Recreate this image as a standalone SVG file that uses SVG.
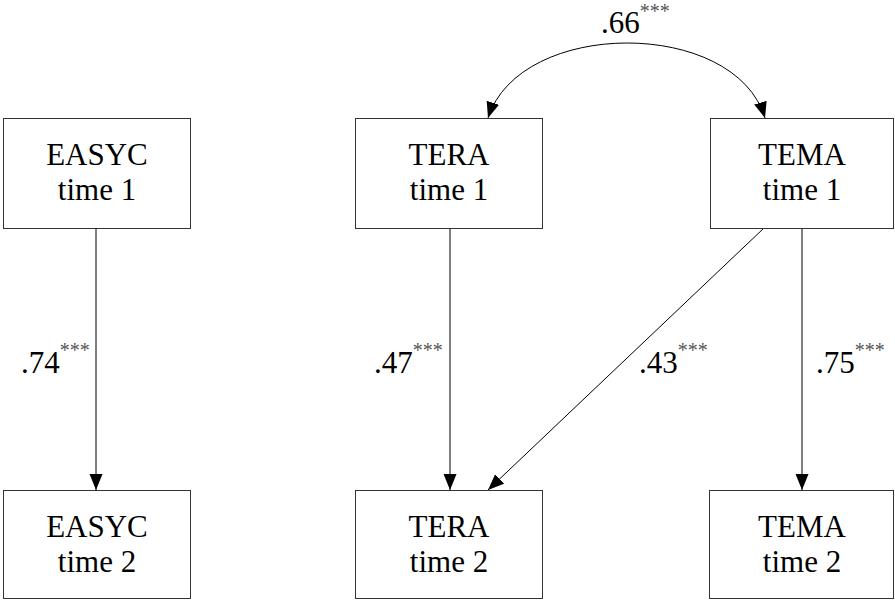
<svg xmlns="http://www.w3.org/2000/svg" width="895" height="600" viewBox="0 0 895 600">
<defs>
<marker id="ah" markerUnits="userSpaceOnUse" markerWidth="16" markerHeight="14" refX="16" refY="7" orient="auto-start-reverse">
<path d="M0,0.5 L16,7 L0,13.5 z" fill="#000"/>
</marker>
</defs>
<rect width="895" height="600" fill="#fff"/>
<g id="connectors" fill="none" stroke="#000" stroke-width="1">
<path d="M96,228 L96,490" marker-end="url(#ah)"/>
<path d="M450,228 L450,490" marker-end="url(#ah)"/>
<path d="M802,228 L802,490" marker-end="url(#ah)"/>
<path d="M764,228 L488,490" marker-end="url(#ah)"/>
<path d="M488,118 C520,18 735,18 765,118" marker-start="url(#ah)" marker-end="url(#ah)"/>
</g>
<g id="labels">
<text font-family="Liberation Serif" font-size="31" fill="#000" x="601" y="33">.66<tspan font-size="20" fill="#555" dy="-15">***</tspan></text>
<text font-family="Liberation Serif" font-size="31" fill="#000" x="21" y="373">.74<tspan font-size="20" fill="#555" dy="-16">***</tspan></text>
<text font-family="Liberation Serif" font-size="31" fill="#000" x="374" y="373">.47<tspan font-size="20" fill="#555" dy="-16">***</tspan></text>
<text font-family="Liberation Serif" font-size="31" fill="#000" x="639" y="373">.43<tspan font-size="20" fill="#555" dy="-16">***</tspan></text>
<text font-family="Liberation Serif" font-size="31" fill="#000" x="816" y="373">.75<tspan font-size="20" fill="#555" dy="-16">***</tspan></text>
</g>
<g id="easyc1"><rect fill="#fff" stroke="#333" x="3.5" y="118.5" width="187" height="110"/><text font-family="Liberation Serif" font-size="31" text-anchor="middle" x="97" y="165">EASYC</text><text font-family="Liberation Serif" font-size="31" text-anchor="middle" x="97" y="200">time 1</text></g>
<g id="tera1"><rect fill="#fff" stroke="#333" x="355.5" y="118.5" width="187" height="110"/><text font-family="Liberation Serif" font-size="31" text-anchor="middle" x="449" y="165">TERA</text><text font-family="Liberation Serif" font-size="31" text-anchor="middle" x="449" y="200">time 1</text></g>
<g id="tema1"><rect fill="#fff" stroke="#333" x="710.5" y="118.5" width="183" height="110"/><text font-family="Liberation Serif" font-size="31" text-anchor="middle" x="802" y="165">TEMA</text><text font-family="Liberation Serif" font-size="31" text-anchor="middle" x="802" y="200">time 1</text></g>
<g id="easyc2"><rect fill="#fff" stroke="#333" x="3.5" y="490.5" width="187" height="108"/><text font-family="Liberation Serif" font-size="31" text-anchor="middle" x="97" y="537">EASYC</text><text font-family="Liberation Serif" font-size="31" text-anchor="middle" x="97" y="572">time 2</text></g>
<g id="tera2"><rect fill="#fff" stroke="#333" x="355.5" y="490.5" width="187" height="108"/><text font-family="Liberation Serif" font-size="31" text-anchor="middle" x="449" y="537">TERA</text><text font-family="Liberation Serif" font-size="31" text-anchor="middle" x="449" y="572">time 2</text></g>
<g id="tema2"><rect fill="#fff" stroke="#333" x="709.5" y="490.5" width="184" height="108"/><text font-family="Liberation Serif" font-size="31" text-anchor="middle" x="802" y="537">TEMA</text><text font-family="Liberation Serif" font-size="31" text-anchor="middle" x="802" y="572">time 2</text></g>
</svg>
